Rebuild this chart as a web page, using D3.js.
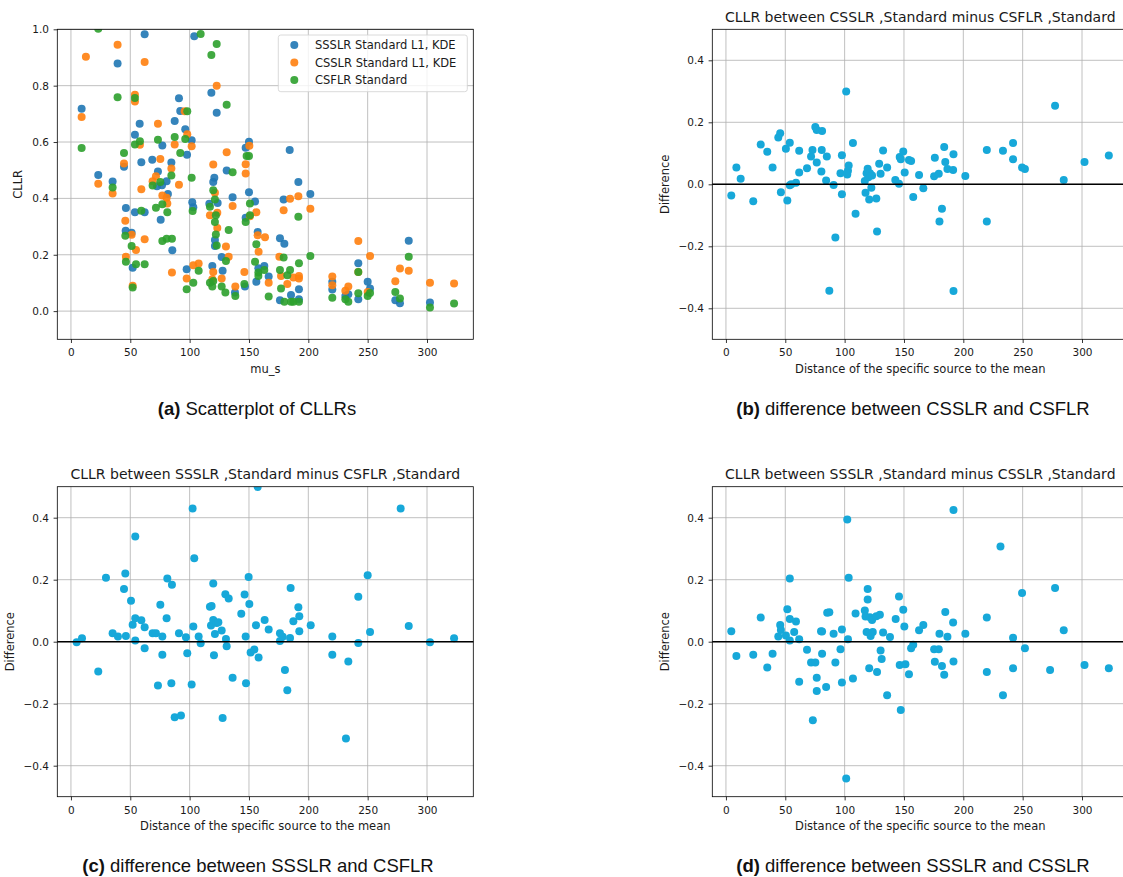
<!DOCTYPE html>
<html>
<head>
<meta charset="utf-8">
<script src="https://cdn.jsdelivr.net/npm/d3@7"></script>
<style>
  body { margin: 0; background: #fff; }
  svg { display: block; font-family: "DejaVu Sans", sans-serif; }
  .tick text { font-size: 10.5px; fill: #1a1a1a; }
  .caption { font-family: "Liberation Sans", Arial, sans-serif; font-size: 18.5px; fill: #111; }
</style>
</head>
<body>
<svg width="1123" height="877"></svg>
<script>
// ---- data: [mu_s, value] ----
const sssl = [[9,0.718],[23,0.483],[35.1,0.46],[39.3,0.879],[44.7,0.512],[46.3,0.366],[46.1,0.285],[51.1,0.278],[52,0.154],[53.9,0.626],[53.9,0.351],[57.9,0.665],[59.3,0.528],[62.1,0.982],[62.1,0.351],[68.5,0.537],[73.3,0.495],[72.5,0.443],[75.6,0.324],[77,0.588],[76.7,0.447],[80.6,0.461],[81.7,0.416],[84.6,0.527],[85.4,0.216],[87.4,0.675],[91,0.755],[92.1,0.71],[96.3,0.645],[97.8,0.555],[101.7,0.606],[102.2,0.386],[103.1,0.369],[103.9,0.975],[97.5,0.149],[118.3,0.775],[119.1,0.16],[120.8,0.473],[119.9,0.458],[116.6,0.381],[122.8,0.704],[121.3,0.252],[121.3,0.231],[123.6,0.384],[127,0.192],[127.8,0.143],[131.2,0.499],[136.2,0.404],[138.2,0.066],[146.6,0.087],[147.2,0.58],[150,0.601],[150,0.422],[147.2,0.331],[155.1,0.389],[157.3,0.281],[156.2,0.104],[157.9,0.152],[162.9,0.16],[166.6,0.123],[176.1,0.259],[179.8,0.239],[179.2,0.396],[184.3,0.572],[185.4,0.057],[176.1,0.039],[191.6,0.458],[192.1,0.078],[192.1,0.042],[201.7,0.416],[220.2,0.104],[220.2,0.077],[242.1,0.17],[242.1,0.042],[233.7,0.06],[231.2,0.054],[250,0.104],[252,0.08],[273.3,0.039],[277.2,0.028],[284.6,0.25],[302.5,0.031]];
const cssl = [[9,0.689],[12.6,0.903],[23,0.452],[35.1,0.417],[39.3,0.945],[44.7,0.524],[45.8,0.321],[46.3,0.193],[51.1,0.271],[52,0.09],[53.9,0.768],[53.9,0.744],[54.8,0.217],[58.1,0.59],[59.3,0.432],[62.1,0.884],[62.1,0.255],[68.8,0.461],[71.6,0.479],[73.3,0.665],[75.3,0.54],[77,0.41],[80.6,0.402],[81.2,0.382],[84.6,0.506],[85.1,0.137],[87.4,0.591],[91,0.448],[95.8,0.709],[98,0.628],[97.5,0.116],[101.7,0.585],[103.1,0.163],[107.6,0.169],[117.1,0.34],[119.9,0.52],[119.9,0.139],[119.1,0.113],[121.3,0.42],[122.8,0.8],[123.3,0.295],[123.3,0.349],[127,0.116],[130.6,0.229],[131.2,0.564],[132.9,0.193],[136.2,0.373],[138.5,0.087],[146.1,0.139],[147.2,0.521],[147.2,0.488],[150.3,0.587],[150.8,0.337],[156.2,0.351],[157.3,0.269],[158.1,0.211],[163.5,0.262],[166.6,0.101],[175.6,0.193],[177,0.125],[179.2,0.358],[182.3,0.096],[184.6,0.399],[187.4,0.119],[191.6,0.408],[192.1,0.125],[192.1,0.116],[201.7,0.363],[220.2,0.123],[220.2,0.092],[233.7,0.087],[231.2,0.072],[242.1,0.249],[242.1,0.139],[250,0.068],[252,0.196],[273.3,0.106],[277.2,0.151],[284.6,0.143],[302.5,0.101],[322.8,0.098]];
const csfl = [[9,0.579],[23,1.002],[35.1,0.439],[39.3,0.759],[44.7,0.561],[45.8,0.267],[46.3,0.175],[51.1,0.231],[52,0.084],[53.9,0.756],[53.9,0.591],[54.8,0.166],[58.1,0.603],[59.3,0.356],[62.1,0.166],[68.8,0.446],[71.6,0.367],[73.3,0.608],[75.3,0.458],[77,0.249],[77,0.379],[80.6,0.257],[81.2,0.351],[85.1,0.257],[84.6,0.481],[87.4,0.618],[92.1,0.561],[98,0.709],[96.3,0.611],[97.5,0.078],[101.7,0.473],[102.5,0.355],[103.1,0.101],[107.6,0.143],[109.3,0.983],[118.3,0.909],[122.8,0.948],[117.1,0.37],[119.9,0.429],[121.3,0.396],[122.1,0.34],[121.3,0.316],[122.1,0.272],[122.8,0.233],[117.1,0.101],[119.1,0.087],[119.9,0.107],[127,0.087],[130.6,0.178],[130.1,0.066],[132.9,0.288],[131.2,0.732],[136.2,0.493],[138.5,0.054],[146.1,0.096],[147.2,0.316],[148,0.55],[150,0.55],[150.8,0.382],[150.8,0.34],[155.1,0.175],[156.2,0.237],[157.9,0.137],[157.9,0.125],[162.9,0.146],[166.6,0.052],[176.1,0.146],[177,0.08],[179.2,0.19],[179.8,0.033],[182.3,0.127],[184.6,0.146],[185.4,0.033],[187.4,0.033],[191.6,0.335],[192.1,0.17],[192.1,0.033],[201.7,0.196],[220.2,0.047],[231.2,0.042],[233.7,0.033],[242.1,0.139],[242.1,0.063],[250,0.054],[252,0.064],[273.3,0.068],[277.2,0.045],[284.6,0.193],[302.5,0.013],[322.8,0.027]];

// (b) CSSLR minus CSFLR
const diffB = [[4.5,-0.036],[8.8,0.054],[12.4,0.018],[23,-0.055],[29.3,0.128],[34.8,0.105],[39.3,0.054],[44.1,0.151],[45.7,0.165],[46.3,-0.026],[50.5,0.115],[51.7,-0.052],[53.8,0.134],[53.8,-0.003],[55,0],[59,0.005],[61.7,0.108],[61.7,0.038],[68.3,0.052],[71.7,0.09],[72.9,0.111],[75.3,0.185],[76.5,0.175],[76.5,0.07],[80.4,0.041],[80.7,0.111],[81,0.172],[84.4,0.012],[85,0.09],[87.1,-0.343],[90.7,-0.002],[92.2,-0.172],[96.5,0.036],[97.7,0.094],[97.7,-0.032],[101.3,0.299],[102.2,0.032],[102.8,0.044],[103.4,0.061],[107,0.133],[109.2,-0.095],[117,0.011],[117.6,-0.027],[118.5,0.036],[119.4,0.05],[120,0.023],[120.7,-0.049],[121.3,0.036],[122.5,-0.011],[123.1,0.028],[126.7,-0.046],[127.3,-0.152],[129.1,0.066],[130.3,0.034],[132.4,0.109],[135.8,0.054],[142.7,0.014],[145.8,0.002],[146.4,0.088],[147.3,0.081],[149.4,0.106],[150.6,0.038],[154.2,0.078],[156,0.075],[157.8,-0.041],[162.7,0.03],[166.3,-0.013],[176,0.086],[175.4,0.026],[179.3,0.034],[179.9,-0.12],[182,-0.079],[183.9,0.12],[184.8,0.072],[186.6,0.049],[191.4,0.046],[191.7,0.097],[191.7,-0.344],[201.7,0.027],[219.8,0.111],[219.8,-0.12],[233.4,0.108],[241.9,0.133],[241.9,0.081],[249.5,0.054],[251.9,0.049],[277.3,0.253],[284.6,0.014],[302.1,0.072],[322.6,0.093]];

// (c) SSSLR minus CSFLR
const diffC = [[4.8,-0.002],[9.3,0.011],[23,-0.096],[29.5,0.206],[35.1,0.027],[39.6,0.017],[44.7,0.17],[45.8,0.22],[46.3,0.018],[50.6,0.132],[52,0.055],[54.2,0.339],[54.2,0.076],[54.2,0.004],[59.3,0.069],[62.1,0.047],[62.1,-0.021],[68.8,0.027],[71.6,0.027],[73.3,-0.141],[75.3,0.119],[77,0.017],[77,-0.042],[80.6,0.076],[81.2,0.204],[85.1,0.184],[84.6,-0.134],[87.4,-0.244],[91,0.027],[92.7,-0.238],[96.9,0.014],[98,-0.037],[101.7,-0.138],[102.5,0.43],[103.1,0.049],[103.9,0.269],[107.6,0.017],[109.3,-0.005],[117.1,0.113],[118.5,0.115],[118,0.052],[119.9,0.188],[119.9,0.07],[120.5,-0.044],[121.3,0.025],[122.8,0.06],[124.2,0.063],[127,0.036],[127.8,-0.246],[130.1,0.153],[130.6,0.009],[131.2,-0.015],[132.9,0.139],[136.2,-0.116],[143.5,0.09],[146.3,0.152],[147.2,0.017],[147.5,-0.134],[149.7,0.209],[150.3,0.122],[151.4,-0.035],[154.5,-0.025],[155.9,0.053],[157.3,0.499],[158.1,-0.051],[163.2,0.07],[166.6,0.039],[176.1,0.027],[176.1,0.002],[178.4,0.016],[180.3,-0.091],[182.3,-0.157],[184.6,0.012],[185.1,0.173],[187.4,0.066],[191.6,0.111],[192.4,0.082],[192.4,0.034],[202,0.053],[220.2,0.017],[220.2,-0.042],[231.7,-0.312],[233.7,-0.064],[242.1,0.145],[242.1,-0.004],[250,0.214],[252,0.031],[277.8,0.43],[284.6,0.051],[302.5,-0.002],[322.8,0.011]];

// (d) SSSLR minus CSSLR
const diffD = [[4.5,0.034],[8.8,-0.046],[23,-0.042],[29.3,0.078],[34.8,-0.083],[39.3,-0.039],[44.1,0.017],[45.7,0.054],[46.3,0.038],[50.5,0.02],[51.7,0.105],[53.8,0.204],[53.8,0.073],[53.8,0.004],[57.5,0.031],[59,0.065],[61.7,0.008],[61.7,-0.129],[68.3,-0.026],[71.7,-0.067],[73.2,-0.253],[75.3,-0.067],[76.5,-0.116],[76.5,-0.159],[80.1,0.034],[81,0.033],[81,-0.039],[84.4,-0.146],[85.3,0.093],[87.1,0.095],[90.7,0.026],[92.2,-0.067],[96.5,-0.024],[97.7,0.039],[97.7,-0.132],[101.3,-0.441],[102.2,0.394],[102.8,0.008],[103.4,0.206],[107,-0.119],[109.2,0.091],[117,0.101],[117.6,0.081],[118.5,0.031],[119.4,0.17],[119.4,0.136],[120.7,-0.086],[121.3,0.079],[121.9,0.018],[123.1,0.07],[123.7,0.031],[126.7,0.082],[127.3,-0.098],[129.7,0.087],[130.3,-0.028],[131.2,-0.056],[132.4,0.03],[135.8,-0.173],[138.2,0.015],[143,0.073],[145.8,0.146],[146.4,-0.075],[147.3,-0.22],[149.4,0.103],[150.3,0.049],[151.2,-0.073],[154.2,-0.105],[156,-0.021],[157.8,-0.01],[162.7,0.037],[166.3,0.054],[175.4,-0.024],[176,-0.065],[179.3,-0.024],[179.9,0.026],[182,-0.078],[183.9,-0.107],[184.8,0.096],[186.6,0.016],[191.4,0.062],[191.7,-0.064],[191.7,0.425],[201.7,0.026],[219.8,0.078],[219.8,-0.098],[231.3,0.307],[233.4,-0.173],[241.9,0.013],[241.9,-0.086],[249.5,0.157],[251.9,-0.021],[273.1,-0.091],[277.3,0.173],[284.6,0.037],[302.1,-0.075],[322.6,-0.086]];

const xTicks = [0, 50, 100, 150, 200, 250, 300];
const cllrTicks = [0, 0.2, 0.4, 0.6, 0.8, 1.0];
const diffTicks = [-0.4, -0.2, 0, 0.2, 0.4];
const legendLabels = ["SSSLR Standard L1, KDE", "CSSLR Standard L1, KDE", "CSFLR Standard"];

(function (d3) {
  "use strict";

  const svg = d3.select("svg");
  svg.append("rect").attr("width", 1123).attr("height", 877).attr("fill", "#fff");

  const panelW = 416;
  const panelH = 310;
  const xDomain = [-11.5, 339];
  const seriesColors = ["#1f77b4", "#ff7f0e", "#2ca02c"];
  const diffColor = "#17a8d9";
  const fmt = d3.format(".1f");
  const labelSize = "11.5px";

  const drawPanel = (opt) => {
    const g = svg.append("g").attr("transform", `translate(${opt.left},${opt.top})`);
    const xScale = d3.scaleLinear().domain(xDomain).range([0, panelW]);
    const yScale = d3.scaleLinear().domain(opt.yDomain).range([panelH, 0]);

    // grid
    g.append("g")
      .selectAll("line")
      .data(xTicks)
      .join("line")
      .attr("x1", (d) => xScale(d))
      .attr("x2", (d) => xScale(d))
      .attr("y1", 0)
      .attr("y2", panelH)
      .attr("stroke", "#b0b0b0")
      .attr("stroke-width", 0.8);
    g.append("g")
      .selectAll("line")
      .data(opt.yTicks)
      .join("line")
      .attr("x1", 0)
      .attr("x2", panelW)
      .attr("y1", (d) => yScale(d))
      .attr("y2", (d) => yScale(d))
      .attr("stroke", "#b0b0b0")
      .attr("stroke-width", 0.8);

    // points, clipped to the axes box
    const clipId = `clip-${opt.id}`;
    g.append("clipPath")
      .attr("id", clipId)
      .append("rect")
      .attr("width", panelW)
      .attr("height", panelH);
    const pts = g.append("g").attr("clip-path", `url(#${clipId})`);
    opt.series.forEach((s) => {
      pts.append("g")
        .selectAll("circle")
        .data(s.data)
        .join("circle")
        .attr("cx", (d) => xScale(d[0]))
        .attr("cy", (d) => yScale(d[1]))
        .attr("r", 4)
        .attr("fill", s.color)
        .attr("fill-opacity", s.opacity);
    });

    if (opt.zeroLine) {
      g.append("line")
        .attr("x1", 0)
        .attr("x2", panelW)
        .attr("y1", yScale(0))
        .attr("y2", yScale(0))
        .attr("stroke", "#000")
        .attr("stroke-width", 1.6);
    }

    // axes
    const xAxisG = g.append("g")
      .attr("transform", `translate(0,${panelH})`)
      .call(d3.axisBottom(xScale).tickValues(xTicks).tickSizeInner(3.7).tickSizeOuter(0).tickPadding(6));
    xAxisG.select(".domain").remove();
    xAxisG.selectAll(".tick line").attr("stroke", "#000").attr("stroke-width", 0.8);

    const yAxisG = g.append("g")
      .call(d3.axisLeft(yScale).tickValues(opt.yTicks).tickFormat(fmt).tickSizeInner(3.7).tickSizeOuter(0).tickPadding(4.6));
    yAxisG.select(".domain").remove();
    yAxisG.selectAll(".tick line").attr("stroke", "#000").attr("stroke-width", 0.8);
    svg.selectAll(".tick text").attr("font-family", "DejaVu Sans, sans-serif");

    // frame
    g.append("rect")
      .attr("width", panelW)
      .attr("height", panelH)
      .attr("fill", "none")
      .attr("stroke", "#000")
      .attr("stroke-width", 0.8);

    // labels
    g.append("text")
      .attr("x", panelW / 2)
      .attr("y", panelH + 33.5)
      .attr("text-anchor", "middle")
      .attr("font-size", labelSize)
      .attr("fill", "#1a1a1a")
      .text(opt.xLabel);

    g.append("text")
      .attr("transform", `translate(${opt.yLabelX},${panelH / 2}) rotate(-90)`)
      .attr("text-anchor", "middle")
      .attr("font-size", labelSize)
      .attr("fill", "#1a1a1a")
      .text(opt.yLabel);

    if (opt.title) {
      g.append("text")
        .attr("x", panelW / 2)
        .attr("y", -7.5)
        .attr("text-anchor", "middle")
        .attr("font-size", "14px")
        .attr("fill", "#1a1a1a")
        .text(opt.title);
    }
    return g;
  };

  // (a) scatter of CLLRs
  const gA = drawPanel({
    id: "a",
    left: 57.3,
    top: 29.3,
    yDomain: [-0.1, 1.0],
    yTicks: cllrTicks,
    series: [
      { data: sssl, color: seriesColors[0], opacity: 0.9 },
      { data: cssl, color: seriesColors[1], opacity: 0.9 },
      { data: csfl, color: seriesColors[2], opacity: 0.9 },
    ],
    xLabel: "mu_s",
    yLabel: "CLLR",
    yLabelX: -35,
  });

  // legend
  const legend = gA.append("g").attr("transform", "translate(221,5.7)");
  legend.append("rect")
    .attr("width", 189)
    .attr("height", 56.7)
    .attr("rx", 2.5)
    .attr("fill", "#fff")
    .attr("fill-opacity", 0.8)
    .attr("stroke", "#d0d0d0")
    .attr("stroke-width", 0.8);
  const items = legend.selectAll("g.item")
    .data(legendLabels)
    .join("g")
    .attr("class", "item")
    .attr("transform", (d, i) => `translate(0,${10 + i * 17.5})`);
  items.append("circle")
    .attr("cx", 16)
    .attr("r", 4)
    .attr("fill", (d, i) => seriesColors[i])
    .attr("fill-opacity", 0.9);
  items.append("text")
    .attr("x", 36.7)
    .attr("dy", "0.36em")
    .attr("font-size", labelSize)
    .attr("fill", "#1a1a1a")
    .text((d) => d);

  const distLabel = "Distance of the specific source to the mean";

  drawPanel({
    id: "b",
    left: 712.3,
    top: 29.3,
    yDomain: [-0.5, 0.5],
    yTicks: diffTicks,
    series: [{ data: diffB, color: diffColor, opacity: 1 }],
    zeroLine: true,
    xLabel: distLabel,
    yLabel: "Difference",
    yLabelX: -43,
    title: "CLLR between CSSLR ,Standard minus CSFLR ,Standard",
  });

  drawPanel({
    id: "c",
    left: 57.3,
    top: 486.7,
    yDomain: [-0.5, 0.5],
    yTicks: diffTicks,
    series: [{ data: diffC, color: diffColor, opacity: 1 }],
    zeroLine: true,
    xLabel: distLabel,
    yLabel: "Difference",
    yLabelX: -43,
    title: "CLLR between SSSLR ,Standard minus CSFLR ,Standard",
  });

  drawPanel({
    id: "d",
    left: 712.3,
    top: 486.7,
    yDomain: [-0.5, 0.5],
    yTicks: diffTicks,
    series: [{ data: diffD, color: diffColor, opacity: 1 }],
    zeroLine: true,
    xLabel: distLabel,
    yLabel: "Difference",
    yLabelX: -43,
    title: "CLLR between SSSLR ,Standard minus CSSLR ,Standard",
  });

  // sub-figure captions
  const captions = [
    { tag: "(a)", text: " Scatterplot of CLLRs", x: 257, y: 414.5 },
    { tag: "(b)", text: " difference between CSSLR and CSFLR", x: 913, y: 414.5 },
    { tag: "(c)", text: " difference between SSSLR and CSFLR", x: 258, y: 871.5 },
    { tag: "(d)", text: " difference between SSSLR and CSSLR", x: 913, y: 871.5 },
  ];
  captions.forEach((c) => {
    const t = svg.append("text")
      .attr("class", "caption")
      .attr("x", c.x)
      .attr("y", c.y)
      .attr("text-anchor", "middle");
    t.append("tspan").attr("font-weight", "bold").text(c.tag);
    t.append("tspan").text(c.text);
  });
})(d3);
</script>
</body>
</html>
